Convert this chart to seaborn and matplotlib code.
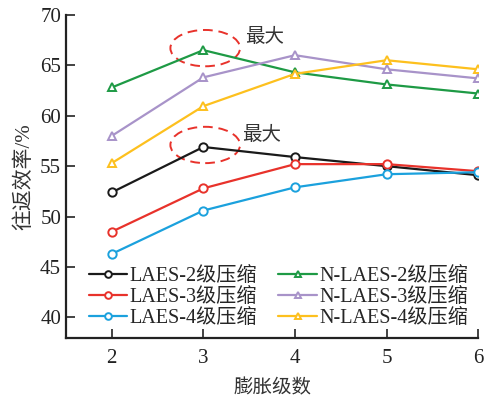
import matplotlib
matplotlib.use("Agg")
import matplotlib.pyplot as plt
from matplotlib.patches import Ellipse
import seaborn as sns
import pandas as pd

sns.set_theme(style="ticks")
plt.rcParams['font.family'] = ['Liberation Serif', 'Noto Sans CJK SC']
plt.rcParams['axes.unicode_minus'] = False

stages = [2, 3, 4, 5, 6]
laes_2 = [52.4, 56.9, 55.9, 55.0, 54.1]
laes_3 = [48.5, 52.8, 55.2, 55.2, 54.5]
laes_4 = [46.3, 50.6, 52.9, 54.2, 54.4]
nlaes_2 = [62.8, 66.5, 64.3, 63.1, 62.2]
nlaes_3 = [58.0, 63.8, 66.0, 64.6, 63.7]
nlaes_4 = [55.3, 60.95, 64.15, 65.5, 64.6]

names = ["LAES-2级压缩", "LAES-3级压缩", "LAES-4级压缩",
         "N-LAES-2级压缩", "N-LAES-3级压缩", "N-LAES-4级压缩"]
series = [laes_2, laes_3, laes_4, nlaes_2, nlaes_3, nlaes_4]
colors = ["#1a1a1a", "#e8322b", "#1ba1dd", "#1e9a45", "#a893c9", "#fdc01e"]
markers = ["o", "o", "o", "^", "^", "^"]

df = pd.DataFrame({
    "stage": stages * len(names),
    "eff": [v for s in series for v in s],
    "case": [n for n in names for _ in stages],
})

fig = plt.figure(figsize=(4.85, 4.01), dpi=100)
ax = fig.add_axes([0.136, 0.158, 0.85, 0.805])

for name, col, mk in zip(names, colors, markers):
    sub = df[df["case"] == name]
    sns.lineplot(data=sub, x="stage", y="eff", ax=ax, color=col, marker=mk,
                 markersize=6, markerfacecolor="white", markeredgecolor=col,
                 markeredgewidth=1.4, linewidth=1.6, label=name)

# dashed ellipses marking the maxima
for cx, cy in [(3.02, 66.7), (3.02, 57.1)]:
    ax.add_patch(Ellipse((cx, cy), 0.76, 3.6, fill=False, edgecolor="#e8322b",
                         linestyle=(0, (5, 3)), linewidth=1.4))
ax.text(3.45, 67.8, "最大", fontsize=14, color="#333333", va="center", ha="left")
ax.text(3.42, 58.1, "最大", fontsize=14, color="#333333", va="center", ha="left")

ax.set_xlim(1.5, 6)
ax.set_ylim(38, 70)
ax.set_xticks([2, 3, 4, 5, 6])
ax.set_yticks([40, 45, 50, 55, 60, 65, 70])
ax.tick_params(direction="in", labelsize=15, width=1.2, length=6.5,
               colors="#222222")
ax.tick_params(axis="x", pad=8)
for s in ["top", "right"]:
    ax.spines[s].set_visible(False)
for s in ["left", "bottom"]:
    ax.spines[s].set_linewidth(1.6)
    ax.spines[s].set_color("#222222")

ax.set_xlabel("膨胀级数", fontsize=14, color="#333333", labelpad=8)
ax.set_ylabel("往返效率/%", fontsize=15, color="#333333", labelpad=4)

ax.legend(loc="lower left", bbox_to_anchor=(0.045, 0.016), ncol=2, frameon=False,
          fontsize=14.5, handlelength=1.9, handletextpad=0.15, columnspacing=1.05,
          labelspacing=0.1, borderaxespad=0.0, borderpad=0.2, markerscale=0.8)

fig.savefig("out.png", dpi=100)
